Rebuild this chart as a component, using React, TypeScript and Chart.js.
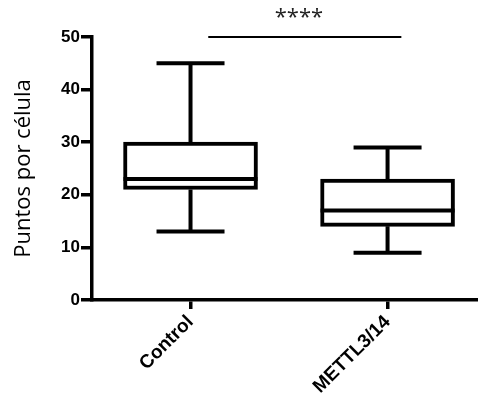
import React, { useEffect, useRef } from 'react';
import { Chart, registerables } from 'chart.js';

Chart.register(...registerables);

// ---- Data ----
const categories = ['Control', 'METTL3/14'];
const whiskerMin = [13, 9];
const q1 = [21, 14];
const median = [23, 17];
const q3 = [30, 23];
const whiskerMax = [45, 29];
const yTickValues = [0, 10, 20, 30, 40, 50];
const sigLabel = '****';
const sigLevel = 50;
const sigFrom = 0.09;
const sigTo = 1.07;

const BOX_WIDTH = 134;
const CAP_WIDTH = 68;
const LINE_W = 4;
const TICK_FONT = '"Liberation Sans", Arial, sans-serif';

const boxPlugin = {
  id: 'boxWhiskers',
  afterDatasetsDraw(chart: any) {
    const { ctx, scales } = chart;
    const x = scales.x;
    const y = scales.y;
    ctx.save();
    ctx.strokeStyle = '#000';
    ctx.lineWidth = LINE_W;
    ctx.lineCap = 'butt';
    categories.forEach((_, i) => {
      const cx = x.getPixelForValue(i);
      const pMax = y.getPixelForValue(whiskerMax[i]);
      const pMin = y.getPixelForValue(whiskerMin[i]);
      const pQ1 = y.getPixelForValue(q1[i]);
      const pQ3 = y.getPixelForValue(q3[i]);
      const pMed = y.getPixelForValue(median[i]);
      ctx.beginPath();
      ctx.moveTo(cx, pQ3);
      ctx.lineTo(cx, pMax);
      ctx.moveTo(cx - CAP_WIDTH / 2, pMax);
      ctx.lineTo(cx + CAP_WIDTH / 2, pMax);
      ctx.moveTo(cx, pQ1);
      ctx.lineTo(cx, pMin);
      ctx.moveTo(cx - CAP_WIDTH / 2, pMin);
      ctx.lineTo(cx + CAP_WIDTH / 2, pMin);
      ctx.moveTo(cx - BOX_WIDTH / 2, pMed);
      ctx.lineTo(cx + BOX_WIDTH / 2, pMed);
      ctx.stroke();
    });
    const sy = y.getPixelForValue(sigLevel);
    const sx1 = x.getPixelForValue(sigFrom);
    const sx2 = x.getPixelForValue(sigTo);
    ctx.lineWidth = 2;
    ctx.beginPath();
    ctx.moveTo(sx1, sy);
    ctx.lineTo(sx2, sy);
    ctx.stroke();
    ctx.fillStyle = '#222';
    ctx.font = '22px "Open Sans", sans-serif';
    ctx.textAlign = 'center';
    ctx.textBaseline = 'alphabetic';
    ctx.fillText(sigLabel, x.getPixelForValue(0.55), sy - 13);
    ctx.restore();
  },
};

export default function App() {
  const canvasRef = useRef<HTMLCanvasElement | null>(null);

  useEffect(() => {
    const canvas = canvasRef.current;
    if (!canvas) return;
    const chart = new Chart(canvas, {
      type: 'bar',
      data: {
        datasets: [
          {
            data: categories.map((_, i) => ({ x: i, y: [q1[i], q3[i]] })) as any,
            backgroundColor: '#ffffff',
            borderColor: '#000000',
            borderWidth: LINE_W,
            borderSkipped: false,
            barThickness: BOX_WIDTH,
          },
        ],
      },
      options: {
        animation: false,
        responsive: true,
        maintainAspectRatio: false,
        layout: { padding: { top: 37, left: 0, right: 0, bottom: 0 } },
        plugins: {
          legend: { display: false },
          tooltip: { enabled: false },
        },
        scales: {
          x: {
            type: 'linear',
            offset: false,
            min: -0.5,
            max: 1.459,
            afterBuildTicks: (scale: any) => {
              scale.ticks = categories.map((_, i) => ({ value: i }));
            },
            afterFit: (scale: any) => {
              scale.height = 104;
            },
            grid: {
              offset: false,
              drawOnChartArea: false,
              drawTicks: true,
              tickLength: 9,
              lineWidth: 3.5,
              color: '#000',
            },
            border: { display: true, width: 3.5, color: '#000' },
            ticks: {
              autoSkip: false,
              minRotation: 45,
              maxRotation: 45,
              padding: 2,
              color: '#000',
              font: { family: TICK_FONT, size: 19, weight: 'bold' },
              callback: (v: any) => categories[v as number] ?? '',
            },
          },
          y: {
            min: 0,
            max: 50,
            afterBuildTicks: (scale: any) => {
              scale.ticks = yTickValues.map((v) => ({ value: v }));
            },
            afterFit: (scale: any) => {
              scale.width = 92;
            },
            grid: {
              drawOnChartArea: false,
              drawTicks: true,
              tickLength: 11,
              lineWidth: 3.5,
              color: '#000',
            },
            border: { display: true, width: 3.5, color: '#000' },
            ticks: {
              padding: 1,
              color: '#000',
              font: { family: TICK_FONT, size: 17, weight: 'bold' },
            },
            title: {
              display: true,
              text: 'Puntos por célula',
              color: '#000',
              font: { family: '"Open Sans", sans-serif', size: 22, weight: 'normal' },
              padding: { top: 11, bottom: 0 },
            },
          },
        },
      },
      plugins: [boxPlugin],
    } as any);
    return () => chart.destroy();
  }, []);

  return (
    <div style={{ position: 'fixed', left: 0, top: 0, width: 478, height: 404, background: '#fff' }}>
      <canvas ref={canvasRef} />
    </div>
  );
}
